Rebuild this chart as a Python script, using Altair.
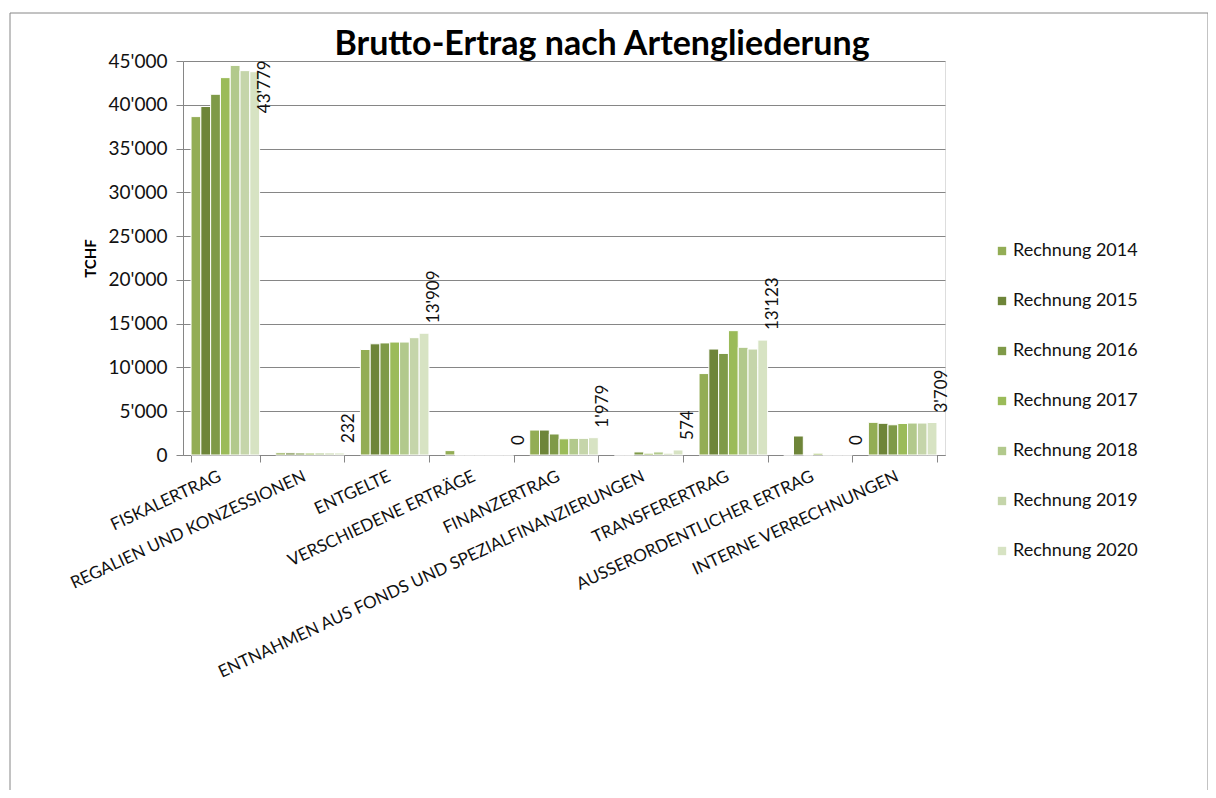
import altair as alt
import pandas as pd

categories = [
    "FISKALERTRAG",
    "REGALIEN UND KONZESSIONEN",
    "ENTGELTE",
    "VERSCHIEDENE ERTRÄGE",
    "FINANZERTRAG",
    "ENTNAHMEN AUS FONDS UND SPEZIALFINANZIERUNGEN",
    "TRANSFERERTRAG",
    "AUSSERORDENTLICHER ERTRAG",
    "INTERNE VERRECHNUNGEN",
]
series = ["Rechnung 2014", "Rechnung 2015", "Rechnung 2016", "Rechnung 2017",
          "Rechnung 2018", "Rechnung 2019", "Rechnung 2020"]
v2014 = [38650, 250, 12050, 500, 2850, 0, 9300, 0, 3730]
v2015 = [39800, 240, 12700, 0, 2850, 0, 12100, 2170, 3620]
v2016 = [41200, 230, 12800, 0, 2400, 350, 11600, 0, 3450]
v2017 = [43100, 220, 12900, 0, 1850, 200, 14200, 200, 3600]
v2018 = [44500, 230, 12900, 0, 1900, 350, 12300, 0, 3650]
v2019 = [43900, 230, 13400, 0, 1900, 200, 12100, 0, 3650]
v2020 = [43779, 232, 13909, 0, 1979, 574, 13123, 0, 3709]
colors = ["#93AD55", "#6E8539", "#7F9A48", "#9BBB59", "#B2C98C", "#C5D5AA", "#D7E3C3"]

all_vals = [v2014, v2015, v2016, v2017, v2018, v2019, v2020]
rows = []
for s, vals in zip(series, all_vals):
    for c, v in zip(categories, vals):
        rows.append({"cat": c, "series": s, "value": v})
df = pd.DataFrame(rows)

lab = pd.DataFrame({
    "cat": categories,
    "value": v2020,
    "label": [f"{v:,}".replace(",", "'") for v in v2020],
})

FONT = "Lato"
GRAY = "#868686"

xscale = alt.Scale(domain=categories, paddingInner=0.19, paddingOuter=0.095)

bars = alt.Chart(df).mark_bar(stroke="white", strokeWidth=1).encode(
    x=alt.X("cat:N", scale=xscale, sort=categories, title=None,
            axis=alt.Axis(tickBand="extent", labelAngle=-25, labelAlign="right",
                          labelBaseline="top", labelFontSize=17, labelFont=FONT,
                          labelColor="#111111", labelPadding=6, labelOffset=-9,
                          tickSize=7, tickColor=GRAY, domainColor=GRAY,
                          labelLimit=600, grid=False)),
    xOffset=alt.XOffset("series:N", sort=series,
                        scale=alt.Scale(paddingInner=0, paddingOuter=0)),
    y=alt.Y("value:Q", scale=alt.Scale(domain=[0, 45000], nice=False),
            title="TCHF",
            axis=alt.Axis(values=list(range(0, 45001, 5000)),
                          labelExpr="datum.value == 0 ? '0' : floor(datum.value/1000) + \"'000\"",
                          labelFontSize=19, labelFont=FONT, labelColor="#111111",
                          labelPadding=9, tickSize=7, tickColor=GRAY,
                          domainColor=GRAY, gridColor=GRAY, gridWidth=1,
                          titleFont=FONT, titleFontSize=15, titleFontWeight="bold",
                          titleColor="#000000", titlePadding=10)),
    color=alt.Color("series:N", sort=series,
                    scale=alt.Scale(domain=series, range=colors),
                    legend=alt.Legend(title=None, orient="none", legendX=810,
                                      legendY=181, symbolType="square",
                                      symbolSize=70, symbolStrokeWidth=0,
                                      labelFontSize=18, labelFont=FONT,
                                      labelColor="#111111", rowPadding=32,
                                      labelOffset=2)),
)

labels = alt.Chart(lab).transform_calculate(
    ly="min(datum.value, 37900)"
).mark_text(angle=270, align="left", baseline="middle", fontSize=17,
            font=FONT, color="#111111", dy=5, dx=10).encode(
    x=alt.X("cat:N", scale=xscale, sort=categories, bandPosition=1),
    y=alt.Y("ly:Q"),
    text="label:N",
)

title = alt.Chart(alt.Data(values=[{"t": "Brutto-Ertrag nach Artengliederung"}])).mark_text(
    fontSize=34, font=FONT, fontWeight="bold", align="center",
    baseline="alphabetic", color="#000000").encode(
    x=alt.value(419), y=alt.value(-6), text="t:N")

border = alt.Chart(alt.Data(values=[{}])).mark_rect(
    fill="transparent", stroke=GRAY, strokeWidth=1).encode(
    x=alt.value(-173), x2=alt.value(1025), y=alt.value(-48), y2=alt.value(800))

chart = alt.layer(border, bars, labels, title).properties(
    width=762, height=394,
    padding={"left": 175, "top": 53, "right": 263, "bottom": 335},
    autosize=alt.AutoSizeParams(type="none"),
).configure_view(stroke=None).configure(background="white")

chart.save("out.html", embed_options={"renderer": "svg", "actions": False})
